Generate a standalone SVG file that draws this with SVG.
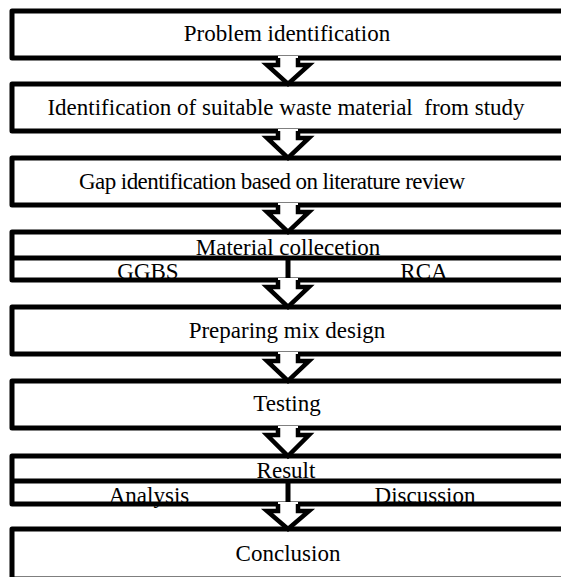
<svg xmlns="http://www.w3.org/2000/svg" width="561" height="577" viewBox="0 0 561 577">
<defs>
<style>
.box{fill:none;stroke:#000;stroke-width:5;stroke-linejoin:round}
.div{stroke:#000;stroke-width:5;fill:none}
.t{font-size:23px;fill:#000;text-anchor:middle}
.af{fill:#fff;stroke:none}
.as{fill:none;stroke:#000;stroke-width:4.5;stroke-linejoin:miter}
</style>
</defs>
<rect x="0" y="0" width="561" height="577" fill="#fff"/>
<g font-family="Liberation Serif, Times New Roman, DejaVu Serif, serif">
<g id="n1">
<text class="t" x="287" y="41">Problem identification</text>
<rect class="box" x="12" y="11" width="560" height="47"/>
</g>
<g id="n2">
<text class="t" x="286" y="115" xml:space="preserve">Identification of suitable waste material  from study</text>
<rect class="box" x="12" y="84" width="560" height="47"/>
</g>
<g id="n3">
<text class="t" x="272" y="189" textLength="386" lengthAdjust="spacing">Gap identification based on literature review</text>
<rect class="box" x="12" y="158" width="560" height="47"/>
</g>
<g id="n4">
<text class="t" x="288" y="255">Material collecetion</text>
<text class="t" x="148" y="279">GGBS</text>
<text class="t" x="424" y="279">RCA</text>
<rect class="box" x="12" y="232" width="560" height="48"/>
<line class="div" x1="12" y1="258" x2="572" y2="258"/>
<line class="div" x1="288" y1="258" x2="288" y2="280"/>
</g>
<g id="n5">
<text class="t" x="287" y="338">Preparing mix design</text>
<rect class="box" x="12" y="307" width="560" height="47"/>
</g>
<g id="n6">
<text class="t" x="287" y="411">Testing</text>
<rect class="box" x="12" y="381" width="560" height="47"/>
</g>
<g id="n7">
<text class="t" x="286" y="478">Result</text>
<text class="t" x="149" y="503">Analysis</text>
<text class="t" x="425" y="503">Discussion</text>
<rect class="box" x="12" y="456" width="560" height="48"/>
<line class="div" x1="12" y1="481" x2="572" y2="481"/>
<line class="div" x1="288" y1="481" x2="288" y2="504"/>
</g>
<g id="n8">
<text class="t" x="288" y="561">Conclusion</text>
<rect class="box" x="12" y="529" width="560" height="50"/>
</g>
</g>
<g id="connectors">
<g transform="translate(0,58)">
<polygon class="af" points="278,-2 298,-2 298,7 309,7 288,26 267,7 278,7"/>
<polyline class="as" points="278,0 278,7 267,7 288,26 309,7 298,7 298,0"/>
</g>
<g transform="translate(0,131)">
<polygon class="af" points="278,-2 298,-2 298,7 309,7 288,27 267,7 278,7"/>
<polyline class="as" points="278,0 278,7 267,7 288,27 309,7 298,7 298,0"/>
</g>
<g transform="translate(0,205)">
<polygon class="af" points="278,-2 298,-2 298,7 309,7 288,27 267,7 278,7"/>
<polyline class="as" points="278,0 278,7 267,7 288,27 309,7 298,7 298,0"/>
</g>
<g transform="translate(0,280)">
<polygon class="af" points="278,-2 298,-2 298,7 309,7 288,27 267,7 278,7"/>
<polyline class="as" points="278,0 278,7 267,7 288,27 309,7 298,7 298,0"/>
</g>
<g transform="translate(0,354)">
<polygon class="af" points="278,-2 298,-2 298,7 309,7 288,27 267,7 278,7"/>
<polyline class="as" points="278,0 278,7 267,7 288,27 309,7 298,7 298,0"/>
</g>
<g transform="translate(0,428)">
<polygon class="af" points="278,-2 298,-2 298,7 309,7 288,28 267,7 278,7"/>
<polyline class="as" points="278,0 278,7 267,7 288,28 309,7 298,7 298,0"/>
</g>
<g transform="translate(0,504)">
<polygon class="af" points="278,-2 298,-2 298,7 309,7 288,25 267,7 278,7"/>
<polyline class="as" points="278,0 278,7 267,7 288,25 309,7 298,7 298,0"/>
</g>
</g>
</svg>
